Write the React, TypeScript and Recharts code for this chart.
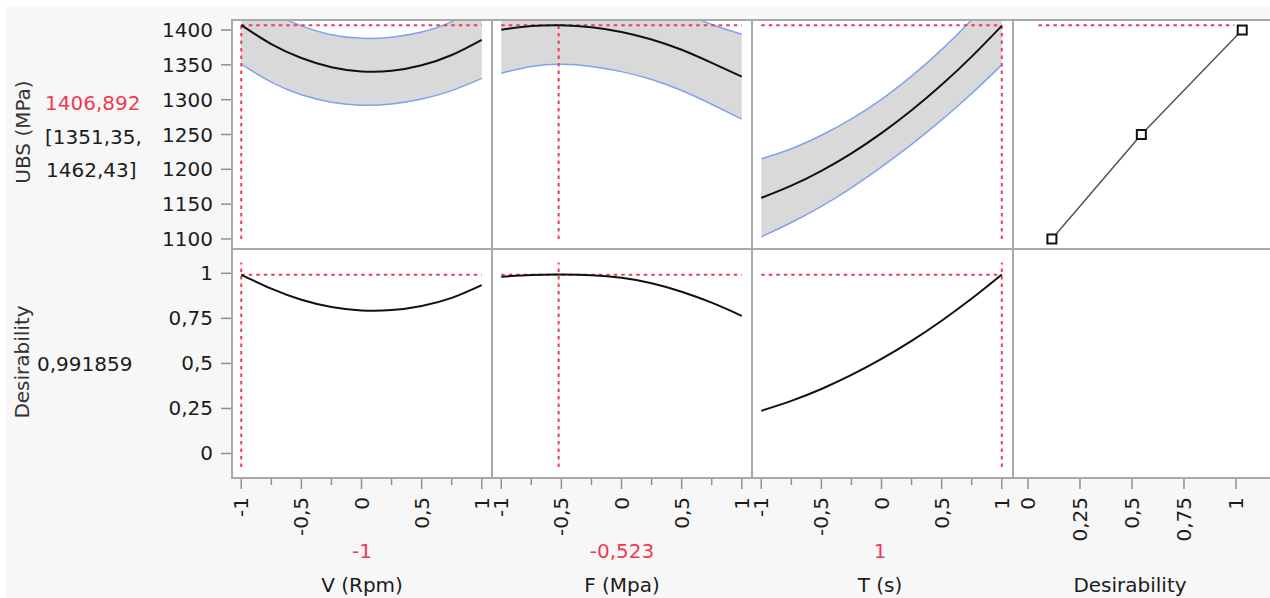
import React from "react";
import { ComposedChart, Line, Area, XAxis, YAxis, ReferenceLine } from "recharts";

// factor settings (coded units) at which the profiles were read
const factorX = [-1, -0.75, -0.5, -0.25, 0, 0.25, 0.5, 0.75, 1];

// UBS (MPa) prediction with confidence band, per factor
const ubsV = [1407, 1379.9, 1359.8, 1346.6, 1340.5, 1341.4, 1349.3, 1364.1, 1386];
const ubsVLow = [1351, 1325.3, 1307, 1296.3, 1292.1, 1293.8, 1300.9, 1313, 1330.6];
const ubsVHigh = [1462, 1427, 1406, 1393.3, 1388.2, 1389.8, 1397.3, 1412, 1438];

const ubsF = [1400.5, 1405.7, 1406.9, 1404.1, 1397.3, 1386.5, 1371.7, 1352.9, 1333];
const ubsFLow = [1338, 1347.7, 1350.9, 1347.8, 1340.3, 1329, 1313.2, 1293.4, 1272];
const ubsFHigh = [1463, 1463.7, 1462.9, 1460.4, 1454.3, 1444, 1426, 1408, 1394];

const ubsT = [1159, 1176.6, 1197.9, 1223, 1252, 1284.8, 1321.4, 1361.8, 1406];
const ubsTLow = [1103, 1123.6, 1146.9, 1173.5, 1203.5, 1235.8, 1270.9, 1308.8, 1350];
const ubsTHigh = [1215, 1229.6, 1248.9, 1272.5, 1300.5, 1333.8, 1371.9, 1414.8, 1462];

// desirability profiles
const desV = [0.992, 0.915, 0.853, 0.813, 0.794, 0.796, 0.819, 0.864, 0.935];
const desF = [0.981, 0.991, 0.993, 0.989, 0.975, 0.945, 0.898, 0.837, 0.764];
const desT = [0.237, 0.292, 0.358, 0.436, 0.525, 0.625, 0.737, 0.86, 0.994];

// desirability function (desirability -> UBS)
const desirabilityAt = [0.115, 0.545, 1.03];
const desirabilityUbs = [1100, 1250, 1400];

const factorNames = ["V (Rpm)", "F (Mpa)", "T (s)"];
const currentSettings = [-1, -0.523, 1];
const currentUbs = 1406.892;
const ubsInterval = [1351.35, 1462.43];
const currentDesirability = 0.991859;

const ubsTicks = [1100, 1150, 1200, 1250, 1300, 1350, 1400];
const desTicks = [0, 0.25, 0.5, 0.75, 1];
const factorTicks = [-1, -0.75, -0.5, -0.25, 0, 0.25, 0.5, 0.75, 1];
const factorLabelled = [-1, -0.5, 0, 0.5, 1];

const profiles = [
  { ubs: ubsV, low: ubsVLow, high: ubsVHigh, des: desV },
  { ubs: ubsF, low: ubsFLow, high: ubsFHigh, des: desF },
  { ubs: ubsT, low: ubsTLow, high: ubsTHigh, des: desT },
];

const COL_LEFT = [232, 492, 752, 1013];
const COL_W = 260;
const ROW_TOP = [20, 249];
const ROW_H = 229;
const YAXIS_W = 100;
const XAXIS_H = 80;
const ubsDomain = [1085.6, 1414.4];
const desDomain = [-0.136, 1.135];
const factorDomain = [-1.077, 1.085];
const desXDomain = [-0.072, 1.178];

const FONT = "'DejaVu Sans', sans-serif";
const RED = "#ee3b52";
const TICK = "#8f8f8f";
const FRAME = "#a9a9a9";

const fmt = (v: number) => String(v).replace(".", ",");

const YTick = (props: any) => {
  const { x, y, payload } = props;
  return (
    <g>
      <line x1={x - 11} x2={x} y1={y} y2={y} stroke={TICK} strokeWidth={1.5} />
      <text x={x - 19} y={y} textAnchor="end" dominantBaseline="central" fontFamily={FONT} fontSize={20} fill="#1c1c1c">
        {fmt(payload.value)}
      </text>
    </g>
  );
};

const makeXTick = (labelled: number[]) => (props: any) => {
  const { x, y, payload } = props;
  const major = labelled.includes(payload.value);
  return (
    <g>
      <line x1={x} x2={x} y1={y} y2={y + (major ? 11 : 7)} stroke={TICK} strokeWidth={1.5} />
      {major && (
        <text transform={`translate(${x},${y + 19}) rotate(-90)`} textAnchor="end" dominantBaseline="central" fontFamily={FONT} fontSize={20} fill="#1c1c1c">
          {fmt(payload.value)}
        </text>
      )}
    </g>
  );
};

const factorXTick = makeXTick(factorLabelled);
const desXTick = makeXTick(desTicks);

const guide = { stroke: RED, strokeWidth: 2, strokeDasharray: "3.5 4" };

const Square = (props: any) => {
  const { cx, cy, index } = props;
  return <rect key={`sq-${index}`} x={cx - 4.5} y={cy - 4.5} width={9} height={9} fill="#fff" stroke="#111" strokeWidth={2} />;
};

function UbsPanel({ col }: { col: number }) {
  const p = profiles[col];
  const rows = factorX.map((x, i) => ({ x, ubs: p.ubs[i], low: p.low[i], high: p.high[i], band: [p.low[i], p.high[i]] }));
  const axisW = col === 0 ? YAXIS_W : 0;
  const cur = currentSettings[col];
  return (
    <div style={{ position: "absolute", left: COL_LEFT[col] - axisW, top: ROW_TOP[0] }}>
      <ComposedChart width={COL_W + axisW} height={ROW_H} data={rows} margin={{ top: 0, right: 0, bottom: 0, left: 0 }}>
        <XAxis dataKey="x" type="number" domain={factorDomain} allowDataOverflow hide />
        <YAxis
          type="number"
          domain={ubsDomain}
          allowDataOverflow
          hide={col !== 0}
          width={YAXIS_W}
          ticks={ubsTicks}
          tick={YTick}
          tickSize={0}
          tickMargin={0}
          tickLine={false}
          axisLine={false}
          interval={0}
        />
        <Area dataKey="band" type="natural" fill="#d9d9d9" fillOpacity={1} stroke="none" isAnimationActive={false} />
        <Line dataKey="low" type="natural" stroke="#7fa3ec" strokeWidth={1.5} dot={false} activeDot={false} isAnimationActive={false} />
        <Line dataKey="high" type="natural" stroke="#7fa3ec" strokeWidth={1.5} dot={false} activeDot={false} isAnimationActive={false} />
        <ReferenceLine segment={[{ x: -1, y: currentUbs }, { x: 1, y: currentUbs }]} {...guide} />
        <ReferenceLine segment={[{ x: cur, y: 1100 }, { x: cur, y: currentUbs }]} {...guide} />
        <Line dataKey="ubs" type="natural" stroke="#111" strokeWidth={2} dot={false} activeDot={false} isAnimationActive={false} />
      </ComposedChart>
    </div>
  );
}

function DesPanel({ col }: { col: number }) {
  const p = profiles[col];
  const rows = factorX.map((x, i) => ({ x, des: p.des[i] }));
  const axisW = col === 0 ? YAXIS_W : 0;
  const cur = currentSettings[col];
  return (
    <div style={{ position: "absolute", left: COL_LEFT[col] - axisW, top: ROW_TOP[1] }}>
      <ComposedChart width={COL_W + axisW} height={ROW_H + XAXIS_H} data={rows} margin={{ top: 0, right: 0, bottom: 0, left: 0 }}>
        <XAxis
          dataKey="x"
          type="number"
          domain={factorDomain}
          allowDataOverflow
          height={XAXIS_H}
          ticks={factorTicks}
          tick={factorXTick}
          tickSize={0}
          tickMargin={0}
          tickLine={false}
          axisLine={false}
          interval={0}
        />
        <YAxis
          type="number"
          domain={desDomain}
          allowDataOverflow
          hide={col !== 0}
          width={YAXIS_W}
          ticks={desTicks}
          tick={YTick}
          tickSize={0}
          tickMargin={0}
          tickLine={false}
          axisLine={false}
          interval={0}
        />
        <ReferenceLine segment={[{ x: -1, y: currentDesirability }, { x: 1, y: currentDesirability }]} {...guide} />
        <ReferenceLine segment={[{ x: cur, y: -0.075 }, { x: cur, y: 1.06 }]} {...guide} />
        <Line dataKey="des" type="natural" stroke="#111" strokeWidth={2} dot={false} activeDot={false} isAnimationActive={false} />
      </ComposedChart>
    </div>
  );
}

function DesirabilityFunctionPanel() {
  const rows = desirabilityAt.map((d, i) => ({ d, ubs: desirabilityUbs[i] }));
  return (
    <div style={{ position: "absolute", left: COL_LEFT[3], top: ROW_TOP[0] }}>
      <ComposedChart width={COL_W} height={ROW_H} data={rows} margin={{ top: 0, right: 0, bottom: 0, left: 0 }}>
        <XAxis dataKey="d" type="number" domain={desXDomain} allowDataOverflow hide />
        <YAxis type="number" domain={ubsDomain} allowDataOverflow hide />
        <ReferenceLine segment={[{ x: 0.05, y: currentUbs }, { x: currentDesirability, y: currentUbs }]} {...guide} />
        <Line dataKey="ubs" type="linear" stroke="#555" strokeWidth={1.5} dot={Square} activeDot={false} isAnimationActive={false} />
      </ComposedChart>
    </div>
  );
}

function DesirabilityAxisPanel() {
  const rows = desirabilityAt.map((d) => ({ d, v: 0.5 }));
  return (
    <div style={{ position: "absolute", left: COL_LEFT[3], top: ROW_TOP[1] }}>
      <ComposedChart width={COL_W} height={ROW_H + XAXIS_H} data={rows} margin={{ top: 0, right: 0, bottom: 0, left: 0 }}>
        <XAxis
          dataKey="d"
          type="number"
          domain={desXDomain}
          allowDataOverflow
          height={XAXIS_H}
          ticks={desTicks}
          tick={desXTick}
          tickSize={0}
          tickMargin={0}
          tickLine={false}
          axisLine={false}
          interval={0}
        />
        <YAxis type="number" domain={desDomain} hide />
      </ComposedChart>
    </div>
  );
}

const label = (left: number, top: number, color = "#1c1c1c"): React.CSSProperties => ({
  position: "absolute",
  left,
  top: top - 12,
  lineHeight: "24px",
  fontFamily: FONT,
  fontSize: 20,
  color,
  whiteSpace: "nowrap",
});

const centered = (cx: number, cy: number, color = "#1c1c1c"): React.CSSProperties => ({
  position: "absolute",
  left: cx,
  top: cy,
  transform: "translate(-50%, -50%)",
  lineHeight: "24px",
  fontFamily: FONT,
  fontSize: 20,
  color,
  whiteSpace: "nowrap",
});

const rotated = (cx: number, cy: number): React.CSSProperties => ({
  ...centered(cx, cy, "#333"),
  transform: "translate(-50%, -50%) rotate(-90deg)",
});

export default function App() {
  const frameV = [...COL_LEFT];
  const frameH = [ROW_TOP[0], ROW_TOP[1], ROW_TOP[1] + ROW_H];
  const bottomCenters = [362, 622, 880];
  return (
    <div style={{ position: "absolute", left: 0, top: 0, width: 1270, height: 598, overflow: "hidden", background: "#fff" }}>
      <style>{`.recharts-surface { overflow: visible; }`}</style>
      <div style={{ position: "absolute", left: 6, top: 6, width: 1264, height: 592, background: "#f7f7f7" }} />
      {[0, 1].map((r) =>
        COL_LEFT.map((l, c) => (
          <div key={`bg-${r}-${c}`} style={{ position: "absolute", left: l, top: ROW_TOP[r], width: COL_W, height: ROW_H, background: "#fff" }} />
        ))
      )}
      {[0, 1, 2].map((c) => (
        <UbsPanel key={`u${c}`} col={c} />
      ))}
      {[0, 1, 2].map((c) => (
        <DesPanel key={`d${c}`} col={c} />
      ))}
      <DesirabilityFunctionPanel />
      <DesirabilityAxisPanel />
      {frameV.map((x) => (
        <div key={`fv-${x}`} style={{ position: "absolute", left: x - 1, top: ROW_TOP[0] - 1, width: 2, height: 2 * ROW_H + 2, background: FRAME }} />
      ))}
      {frameH.map((y) => (
        <div key={`fh-${y}`} style={{ position: "absolute", left: COL_LEFT[0] - 1, top: y - 1, width: 1270, height: 2, background: FRAME }} />
      ))}

      <div style={rotated(23, 132)}>UBS (MPa)</div>
      <div style={label(45, 103, RED)}>{fmt(currentUbs)}</div>
      <div style={label(45, 137)}>[{fmt(ubsInterval[0])},</div>
      <div style={label(46, 170)}>{fmt(ubsInterval[1])}]</div>

      <div style={rotated(22, 362)}>Desirability</div>
      <div style={label(37, 364)}>{fmt(currentDesirability)}</div>

      {factorNames.map((n, i) => (
        <React.Fragment key={n}>
          <div style={centered(bottomCenters[i], 551, RED)}>{fmt(currentSettings[i])}</div>
          <div style={centered(bottomCenters[i], 585)}>{n}</div>
        </React.Fragment>
      ))}
      <div style={centered(1130, 585)}>Desirability</div>
    </div>
  );
}
